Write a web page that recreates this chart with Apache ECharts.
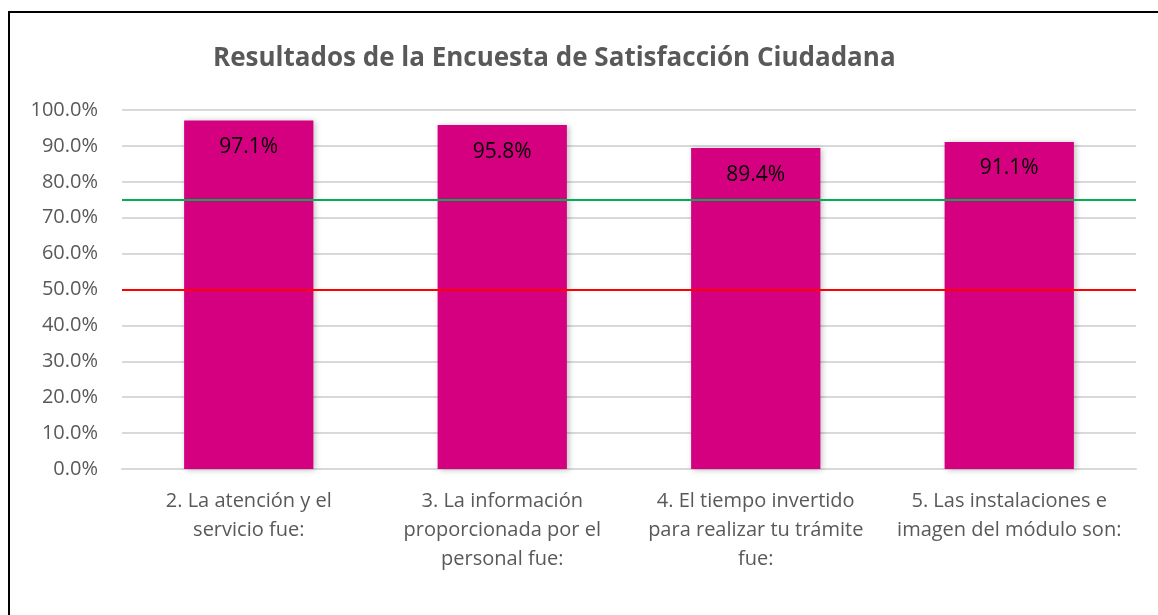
<!DOCTYPE html>
<html>
<head>
<meta charset="utf-8">
<script src="https://cdn.jsdelivr.net/npm/echarts@6/dist/echarts.min.js"></script>
<style>
  html, body { margin: 0; padding: 0; background: #fff; }
  #chart { width: 1158px; height: 615px; }
</style>
</head>
<body>
<div id="chart"></div>
<script>
// data
var categories = [
    '2. La atención y el\nservicio fue:',
    '3. La información\nproporcionada por el\npersonal fue:',
    '4. El tiempo invertido\npara realizar tu trámite\nfue:',
    '5. Las instalaciones e\nimagen del módulo son:'
];
var satisfaction = [97.1, 95.8, 89.4, 91.1];
var goalLine = 75;
var minLine = 50;

var myChart = echarts.init(document.getElementById('chart'));

var option = {
    backgroundColor: '#fff',
    textStyle: { fontFamily: 'Open Sans' },
    title: {
        text: 'Resultados de la Encuesta de Satisfacción Ciudadana',
        left: 208,
        top: 41,
        textStyle: {
            color: '#595959',
            fontSize: 26,
            fontWeight: 'bold',
            fontFamily: 'Open Sans'
        }
    },
    graphic: [{
        type: 'rect',
        shape: { x: 9, y: 12, width: 1200, height: 700 },
        style: { fill: 'none', stroke: '#000', lineWidth: 2 },
        silent: true
    }],
    grid: {
        left: 122,
        right: 22,
        top: 110,
        bottom: 146
    },
    xAxis: {
        type: 'category',
        data: categories,
        axisLine: { lineStyle: { color: '#d9d9d9', width: 2 } },
        axisTick: { show: false },
        axisLabel: {
            color: '#595959',
            fontSize: 20,
            lineHeight: 29,
            margin: 18,
            interval: 0
        }
    },
    yAxis: {
        type: 'value',
        min: 0,
        max: 100,
        interval: 10,
        axisLine: { show: false },
        axisTick: { show: false },
        splitLine: { lineStyle: { color: '#d9d9d9', width: 2 } },
        axisLabel: {
            color: '#595959',
            fontSize: 20,
            margin: 24,
            formatter: function (v) { return v.toFixed(1) + '%'; }
        }
    },
    series: [{
        type: 'bar',
        data: satisfaction,
        barWidth: '51%',
        itemStyle: {
            color: '#D5007F',
            shadowColor: 'rgba(0,0,0,0.25)',
            shadowBlur: 6,
            shadowOffsetX: 2,
            shadowOffsetY: 1
        },
        label: {
            show: true,
            position: 'insideTop',
            distance: 16,
            color: '#000',
            fontSize: 21,
            formatter: function (p) { return p.value.toFixed(1) + '%'; }
        },
        markLine: {
            silent: true,
            symbol: 'none',
            label: { show: false },
            data: [
                { yAxis: goalLine, lineStyle: { color: '#00B050', width: 2, type: 'solid' } },
                { yAxis: minLine, lineStyle: { color: '#FF0000', width: 2, type: 'solid' } }
            ]
        }
    }]
};

myChart.setOption(option);
</script>
</body>
</html>
